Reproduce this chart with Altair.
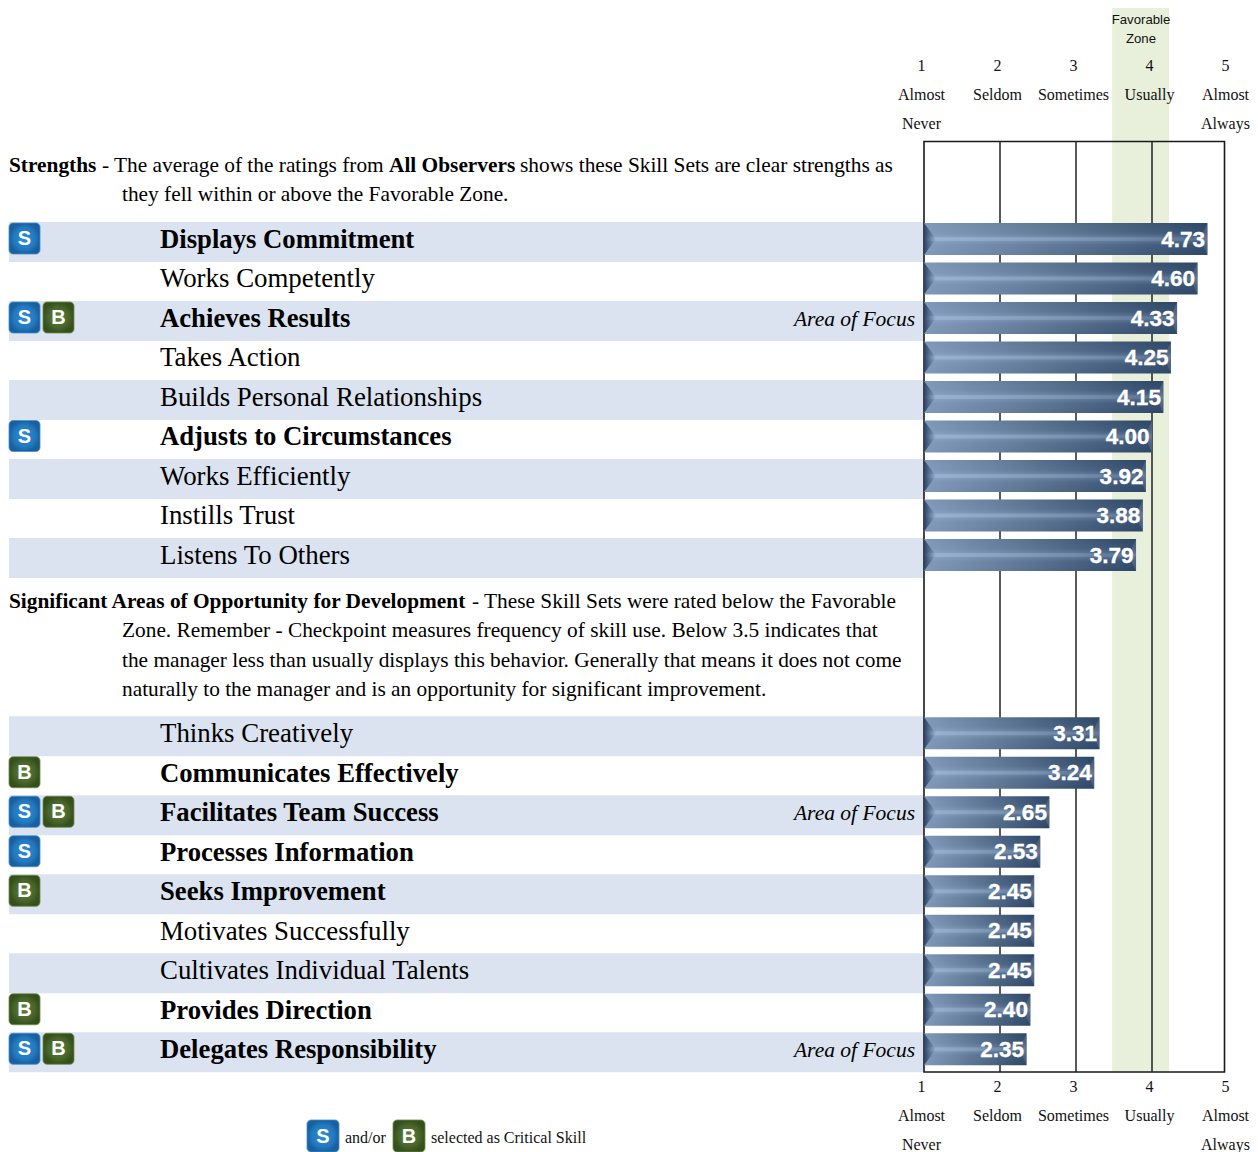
import altair as alt
import pandas as pd

# ---- data ----
strength_skills = ["Displays Commitment", "Works Competently", "Achieves Results", "Takes Action",
                   "Builds Personal Relationships", "Adjusts to Circumstances", "Works Efficiently",
                   "Instills Trust", "Listens To Others"]
strength_scores = [4.73, 4.60, 4.33, 4.25, 4.15, 4.00, 3.92, 3.88, 3.79]
develop_skills = ["Thinks Creatively", "Communicates Effectively", "Facilitates Team Success",
                  "Processes Information", "Seeks Improvement", "Motivates Successfully",
                  "Cultivates Individual Talents", "Provides Direction", "Delegates Responsibility"]
develop_scores = [3.31, 3.24, 2.65, 2.53, 2.45, 2.45, 2.45, 2.40, 2.35]
critical_s = ["Displays Commitment", "Achieves Results", "Adjusts to Circumstances",
              "Facilitates Team Success", "Processes Information", "Delegates Responsibility"]
critical_b = ["Achieves Results", "Communicates Effectively", "Facilitates Team Success",
              "Seeks Improvement", "Provides Direction", "Delegates Responsibility"]
focus_skills = ["Achieves Results", "Facilitates Team Success", "Delegates Responsibility"]
scale_numbers = [1, 2, 3, 4, 5]
scale_line1 = ["Almost", "Seldom", "Sometimes", "Usually", "Almost"]
scale_line2 = ["Never", "", "", "", "Always"]
zone_low, zone_high = 3.475, 4.225

# ---- layout helpers (page pixels -> scale units) ----
W, H = 1242, 1144
UX, UY = 76.0, 39.5
X1_PAGE, ROW0_PAGE = 924.0, 222.0
GROUP2_ROW = (716.25 - ROW0_PAGE) / UY


def xu(page_px):
    return 1 + (page_px - X1_PAGE) / UX


def yu(page_px):
    return (page_px - ROW0_PAGE) / UY


x_scale = alt.Scale(domain=[xu(8), xu(8 + W)], nice=False, zero=False)
y_scale = alt.Scale(domain=[yu(8), yu(8 + H)], nice=False, zero=False, reverse=True)
X = lambda f: alt.X(f, type="quantitative", scale=x_scale, axis=None)
X2 = lambda f: alt.X2(f)
Y = lambda f: alt.Y(f, type="quantitative", scale=y_scale, axis=None)
Y2 = lambda f: alt.Y2(f)

skills = strength_skills + develop_skills
scores = strength_scores + develop_scores
rows = list(range(9)) + [GROUP2_ROW + i for i in range(9)]
df = pd.DataFrame({"skill": skills, "score": scores, "row": rows})
df["one"] = 1.0
df["banded"] = [i % 2 == 0 for i in range(9)] * 2
df["bold"] = df.skill.isin(critical_s + critical_b)
df["barTop"] = df.row + 1 / UY
df["barBottom"] = df.row + 33 / UY
df["mid"] = df.row + 17 / UY
df["stripeTop"] = df.row + 15 / UY
df["stripeBottom"] = df.row + 19 / UY
df["labelX"] = xu(160)
df["focusX"] = xu(915)
df["scoreTxt"] = df.score.map(lambda v: f"{v:.2f}")

bands = df[df.banded].copy()
bands["x0"] = xu(9)
bands["x1"] = 1.0
bands["y1"] = bands.row + 40 / UY


def grad(stops, horizontal=True):
    return alt.LinearGradient(
        gradient="linear",
        x1=0, y1=0, x2=1 if horizontal else 0, y2=0 if horizontal else 1,
        stops=[alt.GradientStop(offset=o, color=c) for o, c in stops],
    )


S_FILL = alt.RadialGradient(gradient="radial", stops=[
    alt.GradientStop(offset=0, color="#2f8dd4"),
    alt.GradientStop(offset=0.7, color="#2279bf"),
    alt.GradientStop(offset=1, color="#1a5f9f")])
B_FILL = alt.RadialGradient(gradient="radial", stops=[
    alt.GradientStop(offset=0, color="#64853a"),
    alt.GradientStop(offset=0.7, color="#46632a"),
    alt.GradientStop(offset=1, color="#35501c")])

layers = []

# row bands
layers.append(alt.Chart(bands).mark_rect(color="#dae3ef").encode(
    x=X("x0"), x2=X2("x1"), y=Y("row"), y2=Y2("y1")))

# favorable zone
zone = pd.DataFrame({"a": [zone_low], "b": [zone_high], "t": [yu(6)], "u": [yu(1072)]})
layers.append(alt.Chart(zone).mark_rect(color="#e8f0dc").encode(
    x=X("a"), x2=X2("b"), y=Y("t"), y2=Y2("u")))

# frame and gridlines
frame = pd.DataFrame({"a": [1.0], "b": [xu(1224.5)], "t": [yu(141.5)], "u": [yu(1072)]})
layers.append(alt.Chart(frame).mark_rect(fill="transparent", stroke="#1a1a1a", strokeWidth=1.6).encode(
    x=X("a"), x2=X2("b"), y=Y("t"), y2=Y2("u")))
grid = pd.DataFrame({"v": [2, 3, 4], "t": yu(141.5), "u": yu(1072)})
layers.append(alt.Chart(grid).mark_rule(color="#222222", strokeWidth=1.5).encode(
    x=X("v"), y=Y("t"), y2=Y2("u")))

# bars
layers.append(alt.Chart(df).mark_bar(fill=grad([(0, "#8099b9"), (0.45, "#5c7593"), (1, "#2e4665")])).encode(
    x=X("one"), x2=X2("score"), y=Y("barTop"), y2=Y2("barBottom")))
layers.append(alt.Chart(df).mark_bar(fill=grad([
    (0, "rgba(170,195,230,0)"), (0.3, "rgba(170,195,230,0.07)"), (0.5, "rgba(190,210,240,0.30)"),
    (0.7, "rgba(170,195,230,0.07)"), (1, "rgba(170,195,230,0)")], horizontal=False)).encode(
    x=X("one"), x2=X2("score"), y=Y("barTop"), y2=Y2("barBottom")))
layers.append(alt.Chart(df).mark_bar(fill=grad([
    (0, "rgba(175,200,235,0.35)"), (0.7, "rgba(175,200,235,0.18)"), (1, "rgba(175,200,235,0)")])).encode(
    x=X("one"), x2=X2("score"), y=Y("stripeTop"), y2=Y2("stripeBottom")))
layers.append(alt.Chart(df).mark_point(
    shape="M0,-1 L0.75,0 L0,1 Z", filled=True, size=1024, opacity=1, strokeWidth=0,
    fill=grad([(0, "#2a4060"), (1, "rgba(60,85,120,0)")])).encode(
    x=X("one"), y=Y("mid")))
layers.append(alt.Chart(df).mark_point(
    shape="M0,-1 L-0.45,0 L0,1 Z", filled=True, size=1024, opacity=0.3, strokeWidth=0,
    fill="#7f97b5").encode(x=X("score"), y=Y("mid")))

# score labels
layers.append(alt.Chart(df).mark_text(
    font="Liberation Sans", fontWeight="bold", fontSize=22.5, color="white", stroke="white", strokeWidth=0.3,
    align="right", baseline="middle", dx=-2.5, dy=0.5).encode(x=X("score"), y=Y("mid"), text="scoreTxt:N"))

# skill labels
for is_bold, size in ((True, 26.7), (False, 26.85)):
    sub = df[df.bold == is_bold]
    layers.append(alt.Chart(sub).mark_text(
        font="Liberation Serif", fontWeight="bold" if is_bold else "normal", fontSize=size,
        color="#000000", align="left", baseline="alphabetic", dy=25.9).encode(
        x=X("labelX"), y=Y("row"), text="skill:N"))

# area of focus
layers.append(alt.Chart(df[df.skill.isin(focus_skills)]).transform_calculate(t="'Area of Focus'").mark_text(
    font="Liberation Serif", fontStyle="italic", fontSize=21.5, color="#000000", align="right",
    baseline="alphabetic", dy=25).encode(x=X("focusX"), y=Y("row"), text="t:N"))

# critical skill icons
ico = []
for _, r in df.iterrows():
    if r.skill in critical_s:
        ico.append(("S", 9, ROW0_PAGE + r.row * UY + 1, 31))
    if r.skill in critical_b:
        ico.append(("B", 43 if r.skill in critical_s else 9, ROW0_PAGE + r.row * UY + 1, 31))
ico.append(("S", 307, 1120, 32))
ico.append(("B", 393, 1120, 32))
ico = pd.DataFrame(ico, columns=["letter", "px", "py", "side"])
ico["x0"] = ico.px.map(xu)
ico["x1"] = (ico.px + ico.side).map(xu)
ico["y0"] = ico.py.map(yu)
ico["y1"] = (ico.py + ico.side).map(yu)
ico["xm"] = (ico.px + ico.side / 2).map(xu)
ico["ym"] = (ico.py + ico.side / 2).map(yu)
for letter, fill, edge in (("S", S_FILL, "#3f8fcb"), ("B", B_FILL, "#6d8a48")):
    sub = ico[ico.letter == letter]
    layers.append(alt.Chart(sub).mark_rect(fill=fill, cornerRadius=4, stroke=edge, strokeWidth=0.8).encode(
        x=X("x0"), x2=X2("x1"), y=Y("y0"), y2=Y2("y1")))
layers.append(alt.Chart(ico).mark_text(
    font="Liberation Sans", fontWeight="bold", fontSize=20, color="white", align="center",
    baseline="middle", dy=0.5).encode(x=X("xm"), y=Y("ym"), text="letter:N"))

# paragraph text (page x, baseline y, text, bold)
para = [
    (9, 172, "Strengths", True),
    (102, 172, "- The average of the ratings from", False),
    (389, 172, "All Observers", True),
    (520, 172, "shows these Skill Sets are clear strengths as", False),
    (122, 201, "they fell within or above the Favorable Zone.", False),
    (9, 608, "Significant Areas of Opportunity for Development", True),
    (472, 608, "- These Skill Sets were rated below the Favorable", False),
    (122, 637, "Zone. Remember - Checkpoint measures frequency of skill use. Below 3.5 indicates that", False),
    (122, 667, "the manager less than usually displays this behavior. Generally that means it does not come", False),
    (122, 696, "naturally to the manager and is an opportunity for significant improvement.", False),
]
para = pd.DataFrame(para, columns=["px", "py", "t", "b"])
para["x"] = para.px.map(xu)
para["y"] = para.py.map(yu)
for is_bold in (True, False):
    layers.append(alt.Chart(para[para.b == is_bold]).mark_text(
        font="Liberation Serif", fontWeight="bold" if is_bold else "normal", fontSize=21.35,
        color="#000000", align="left", baseline="alphabetic").encode(
        x=X("x"), y=Y("y"), text="t:N"))

# scale headings, top and bottom
heads = []
for base in (71, 1092):
    for n, a, b in zip(scale_numbers, scale_line1, scale_line2):
        heads.append((n, base, str(n)))
        heads.append((n, base + 29, a))
        if b:
            heads.append((n, base + 58, b))
heads = pd.DataFrame(heads, columns=["v", "py", "t"])
heads["y"] = heads.py.map(yu)
layers.append(alt.Chart(heads).mark_text(
    font="Liberation Serif", fontSize=16, color="#111111", align="center", baseline="alphabetic",
    dx=-2.5).encode(x=X("v"), y=Y("y"), text="t:N"))

# favorable zone title
fz = pd.DataFrame({"v": [xu(1141)] * 2, "y": [yu(24), yu(43)], "t": ["Favorable", "Zone"]})
layers.append(alt.Chart(fz).mark_text(
    font="Liberation Sans", fontSize=13.2, color="#111111", align="center", baseline="alphabetic").encode(
    x=X("v"), y=Y("y"), text="t:N"))

# legend caption
cap = pd.DataFrame({"x": [xu(345), xu(431)], "y": [yu(1143), yu(1143)],
                    "t": ["and/or", "selected as Critical Skill"]})
layers.append(alt.Chart(cap).mark_text(
    font="Liberation Serif", fontSize=16, color="#111111", align="left", baseline="alphabetic").encode(
    x=X("x"), y=Y("y"), text="t:N"))

chart = alt.layer(*layers).properties(
    width=W, height=H, padding=0, autosize=alt.AutoSizeParams(type="none")
).configure_view(stroke=None)

chart.save("out.html", embed_options={"renderer": "svg", "actions": False})
